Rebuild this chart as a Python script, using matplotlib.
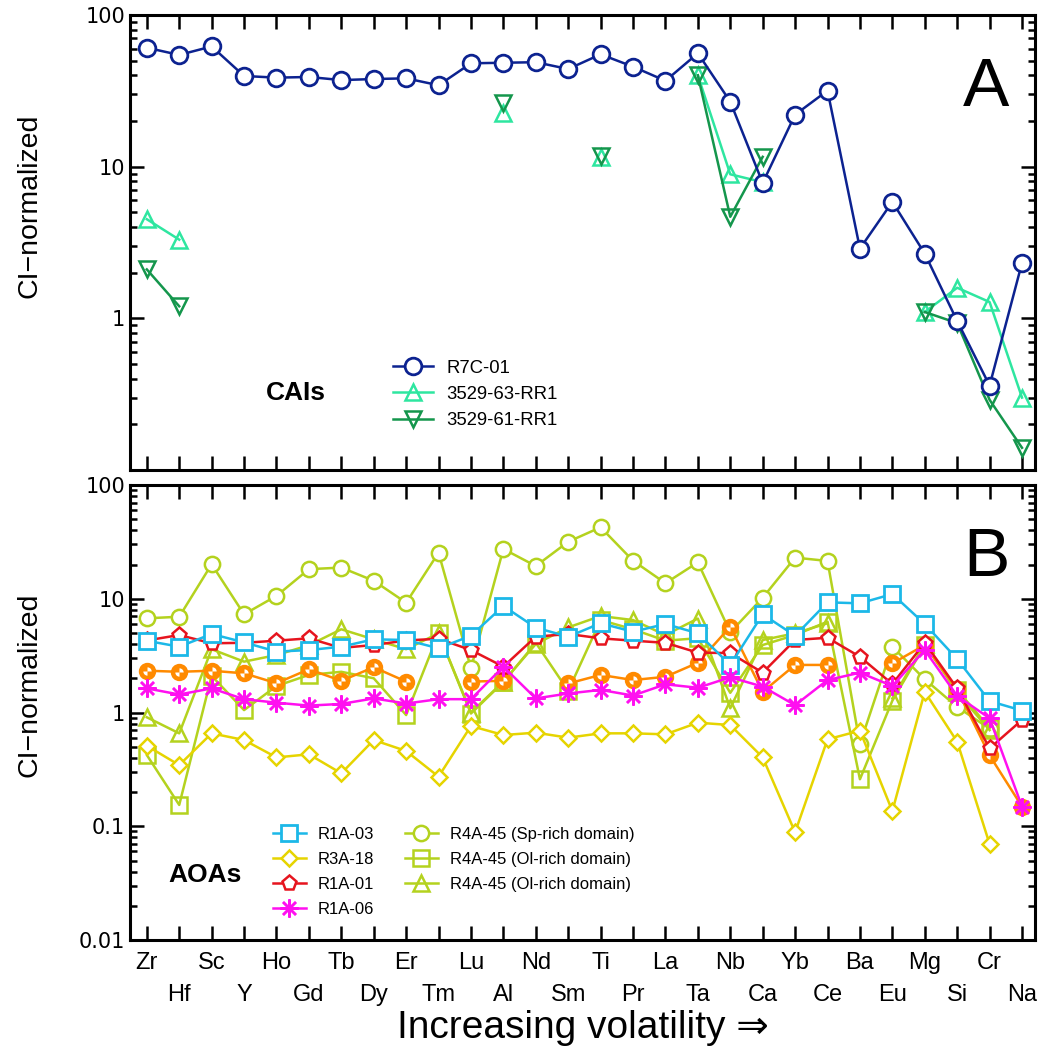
import numpy as np
import matplotlib
matplotlib.use('Agg')
from matplotlib import pyplot as plt
from matplotlib.path import Path

plt.rcParams['font.family'] = ['Liberation Sans', 'DejaVu Sans']

nan = np.nan

# Elements in order of increasing volatility
elements = ['Zr', 'Hf', 'Sc', 'Y', 'Ho', 'Gd', 'Tb', 'Dy', 'Er', 'Tm', 'Lu', 'Al', 'Nd', 'Sm',
            'Ti', 'Pr', 'La', 'Ta', 'Nb', 'Ca', 'Yb', 'Ce', 'Ba', 'Eu', 'Mg', 'Si', 'Cr', 'Na']

# ---- Panel A: CAIs ----
r7c_01 = [60.8, 54.5, 62, 39.6, 38.6, 39, 37.2, 37.8, 38.2, 34.4, 48, 48.4, 48.8, 44,
          55, 45.6, 36.8, 55.9, 26.8, 7.8, 22, 31.7, 2.88, 5.86, 2.67, 0.96, 0.36, 2.32]
rr1_63 = [4.5, 3.3, nan, nan, nan, nan, nan, nan, nan, nan, nan, 22.5, nan, nan,
          11.6, nan, nan, 40, 8.9, 7.9, nan, nan, nan, nan, 1.1, 1.59, 1.28, 0.30]
rr1_61 = [2.1, 1.2, nan, nan, nan, nan, nan, nan, nan, nan, nan, 26.1, nan, nan,
          11.8, nan, nan, 40, 4.67, 11.6, nan, nan, nan, nan, 1.1, 0.93, 0.29, 0.14]

# ---- Panel B: AOAs ----
r1a_03 = [4.27, 3.79, 4.9, 4.14, 3.43, 3.54, 3.79, 4.4, 4.34, 3.67, 4.73, 8.64, 5.57, 4.64,
          6.09, 5.13, 6.0, 4.97, 2.62, 7.3, 4.73, 9.3, 9.12, 11.0, 6.0, 2.95, 1.26, 1.04]
r3a_18 = [0.51, 0.345, 0.656, 0.573, 0.403, 0.429, 0.292, 0.573, 0.459, 0.273, 0.761, 0.634, 0.665, 0.601,
          0.656, 0.656, 0.643, 0.814, 0.776, 0.403, 0.0885, 0.581, 0.692, 0.136, 1.52, 0.554, 0.0698, nan]
r1a_01 = [4.3, 4.8, 4.06, 4.1, 4.28, 4.49, 3.7, 3.92, 4.3, 4.45, 3.54, 2.53, 4.64, 4.9,
          4.49, 4.28, 4.1, 3.36, 3.33, 2.24, 4.34, 4.54, 3.09, 1.78, 4.1, 1.63, 0.484, 0.86]
r1a_06 = [1.63, 1.44, 1.63, 1.31, 1.22, 1.15, 1.19, 1.33, 1.2, 1.31, 1.31, 2.53, 1.33, 1.47,
          1.58, 1.41, 1.77, 1.65, 2.04, 1.69, 1.16, 1.93, 2.24, 1.71, 3.54, 1.4, 0.89, 0.149]
orange_pts = [2.33, 2.28, 2.33, 2.21, 1.81, 2.4, 1.9, 2.5, 1.87, nan, 1.87, 1.9, nan, 1.8,
              2.14, 1.93, 2.06, 2.74, 5.68, 1.52, 2.62, 2.62, nan, 2.7, 3.92, 1.6, 0.42, 0.149]
r4a_sp = [6.73, 6.95, 20.1, 7.3, 10.6, 18.2, 18.8, 14.4, 9.23, 25.4, 2.45, 27.4, 19.4, 31.7,
          42.5, 21.6, 13.7, 20.9, 5.07, 10.2, 23, 21.5, 0.528, 3.79, 1.96, 1.12, 0.72, nan]
r4a_ol_sq = [0.423, 0.154, 2.1, 1.05, 1.71, 2.14, 2.28, 2.0, 0.95, 4.97, 0.98, 1.85, 4.1, 1.55,
             6.5, 5.39, 4.28, 4.5, 1.49, 3.92, 4.8, 6.29, 0.259, 1.27, 3.9, 1.58, 0.73, nan]
r4a_ol_tri = [0.908, 0.656, 3.6, 2.8, 3.2, 3.9, 5.39, 4.4, 3.6, 4.97, 1.0, 1.87, 4.0, 5.6,
              7.05, 6.5, 4.8, 6.7, 1.09, 4.34, 4.97, 6.09, nan, 1.33, 4.0, 1.5, 0.7, nan]

x = np.arange(len(elements))

fig = plt.figure(figsize=(10.43, 10.53), dpi=100)
axA = fig.add_axes([0.1246, 0.5537, 0.8677, 0.4321])
axB = fig.add_axes([0.1246, 0.1073, 0.8677, 0.4321])


def style_axis(ax):
    ax.set_yscale('log')
    ax.set_xlim(-0.52, 27.4)
    ax.set_xticks(x)
    ax.tick_params(axis='both', which='both', direction='in', top=True, right=True, width=1.8)
    ax.tick_params(axis='both', which='major', length=10)
    ax.tick_params(axis='y', which='minor', length=5)
    for s in ax.spines.values():
        s.set_linewidth(2.2)


# Panel A
navy = '#0C2290'
lgreen = '#2EE6A0'
dgreen = '#14964C'
axA.plot(x, r7c_01, '-o', color=navy, lw=1.8, ms=12, mfc='white', mew=2, label='R7C-01', zorder=3)
axA.plot(x, rr1_63, '-^', color=lgreen, lw=1.8, ms=12, mfc='none', mew=1.8, label='3529-63-RR1')
axA.plot(x, rr1_61, '-v', color=dgreen, lw=1.8, ms=12, mfc='none', mew=1.8, label='3529-61-RR1')
style_axis(axA)
axA.set_ylim(0.1, 100)
axA.set_yticks([0.1, 1, 10, 100])
axA.set_yticklabels(['', '1', '10', '100'], family='DejaVu Sans', fontsize=15)
axA.set_xticklabels([])
axA.set_ylabel('CI\u2212normalized', fontsize=20.5)
axA.yaxis.set_label_coords(-0.097, 0.58)
axA.text(0.972, 0.84, 'A', transform=axA.transAxes, fontsize=50, ha='right', va='center')
axA.text(0.183, 0.17, 'CAIs', transform=axA.transAxes, fontsize=19, fontweight='bold',
         ha='center', va='center')
axA.legend(loc='upper left', bbox_to_anchor=(0.272, 0.279), frameon=False, fontsize=13.3,
           handlelength=2.2, labelspacing=0.5, handletextpad=0.7)

# Panel B
cyan = '#1CB8E8'
yellow = '#E6D400'
red = '#E6141E'
magenta = '#FF10F0'
ygreen = '#B4D21E'
orange = '#FF8A00'

checker = Path.make_compound_path(Path.wedge(0, 90), Path.wedge(180, 270))

axB.plot(x, r4a_sp, '-o', color=ygreen, lw=1.8, ms=11, mfc='white', mew=1.8,
         label='R4A-45 (Sp-rich domain)', zorder=2)
axB.plot(x, r4a_ol_sq, '-s', color=ygreen, lw=1.8, ms=11, mfc='none', mew=1.8,
         label='R4A-45 (Ol-rich domain)', zorder=2)
axB.plot(x, r4a_ol_tri, '-^', color=ygreen, lw=1.8, ms=11, mfc='none', mew=1.8,
         label='R4A-45 (Ol-rich domain)', zorder=2)
axB.plot(x, r3a_18, '-D', color=yellow, lw=1.8, ms=8.5, mfc='white', mew=1.8, label='R3A-18', zorder=3)
axB.plot(x, orange_pts, '-o', color=orange, lw=1.8, ms=11, mfc=orange, mew=1.5, zorder=3)
axB.plot(x, orange_pts, linestyle='none', marker=checker, color='white', ms=6, mew=0, zorder=3.1)
axB.plot(x, r1a_01, '-p', color=red, lw=1.8, ms=11, mfc='white', mew=1.8, label='R1A-01', zorder=4)
axB.plot(x, r1a_03, '-s', color=cyan, lw=1.8, ms=11, mfc='white', mew=2, label='R1A-03', zorder=5)
axB.plot(x, r1a_06, '-', marker=(8, 2, 0), color=magenta, lw=1.8, ms=13, mew=1.8,
         label='R1A-06', zorder=6)
style_axis(axB)
axB.set_ylim(0.01, 100)
axB.set_yticks([0.01, 0.1, 1, 10, 100])
axB.set_yticklabels(['0.01', '0.1', '1', '10', '100'], family='DejaVu Sans', fontsize=15)
axB.set_xticklabels([])
for i, el in enumerate(elements):
    axB.text(i, -0.05 if i % 2 == 0 else -0.12, el, transform=axB.get_xaxis_transform(),
             ha='center', va='center', fontsize=17)
axB.set_ylabel('CI\u2212normalized', fontsize=20.5)
axB.yaxis.set_label_coords(-0.097, 0.56)
axB.text(0.5, -0.193, 'Increasing volatility \u21d2', transform=axB.transAxes, fontsize=28,
         ha='center', va='center')
axB.text(0.972, 0.84, 'B', transform=axB.transAxes, fontsize=50, ha='right', va='center')
axB.text(0.083, 0.143, 'AOAs', transform=axB.transAxes, fontsize=19, fontweight='bold',
         ha='center', va='center')

handles, labels = axB.get_legend_handles_labels()
order = ['R1A-03', 'R3A-18', 'R1A-01', 'R1A-06']
h1 = [handles[labels.index(n)] for n in order]
h2 = handles[:3]
leg1 = axB.legend(h1, order, loc='upper left', bbox_to_anchor=(0.141, 0.281), frameon=False,
                  fontsize=12, handlelength=2.0, labelspacing=0.6, handletextpad=0.7)
axB.add_artist(leg1)
axB.legend(h2, [h.get_label() for h in h2], loc='upper left', bbox_to_anchor=(0.287, 0.281),
           frameon=False, fontsize=12, handlelength=2.0, labelspacing=0.6, handletextpad=0.7)

fig.savefig('out.png', dpi=100)
